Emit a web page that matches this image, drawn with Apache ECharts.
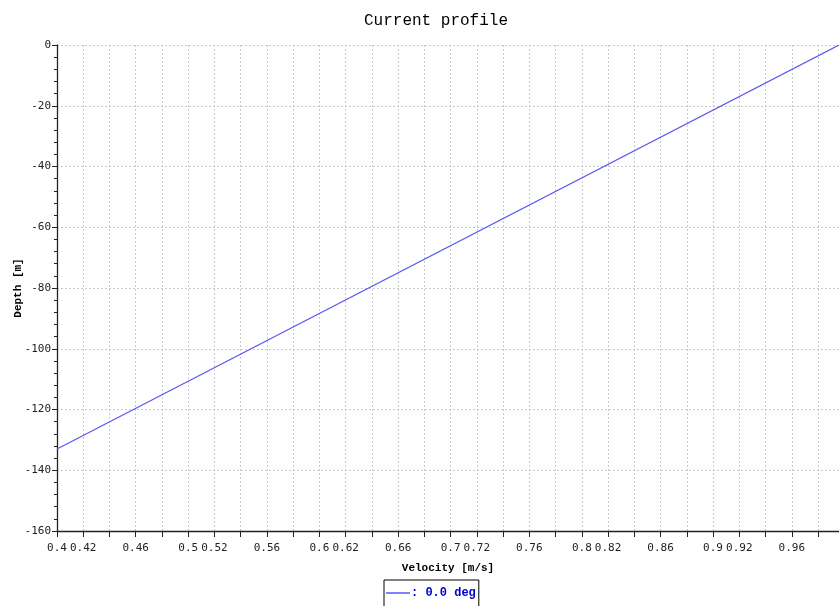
<!DOCTYPE html>
<html>
<head>
<meta charset="utf-8">
<script src="https://cdn.jsdelivr.net/npm/echarts@6/dist/echarts.min.js"></script>
<style>
  html, body { margin: 0; padding: 0; background: #fff; }
  #chart { width: 839px; height: 606px; }
</style>
</head>
<body>
<div id="chart"></div>
<script>
// Current profile: velocity against depth
const velocity = [0.40, 0.996];
const depth = [-133, 0];
const seriesName = ': 0.0 deg';

// Velocity tick labels that are printed (the rest stay blank)
const velocityLabels = [0.4, 0.42, 0.46, 0.5, 0.52, 0.56, 0.6, 0.62, 0.66, 0.7,
  0.72, 0.76, 0.8, 0.82, 0.86, 0.9, 0.92, 0.96];

const points = velocity.map((v, i) => [v, depth[i]]);

const chart = echarts.init(document.getElementById('chart'), null, { renderer: 'canvas' });

const gridLine = { show: true, lineStyle: { color: '#cacaca', type: [2, 2], width: 1 } };
const axisLine = { show: true, onZero: false, lineStyle: { color: '#222', width: 1.3 } };
const tickFont = { fontFamily: 'DejaVu Sans Mono', fontSize: 11, color: '#222' };
const nameFont = { fontFamily: 'Liberation Mono', fontSize: 11, fontWeight: 'bold', color: '#000' };

chart.setOption({
  animation: false,
  title: {
    text: 'Current profile',
    left: 359,
    top: 8,
    textStyle: { fontFamily: 'Liberation Mono', fontSize: 16, fontWeight: 'normal', color: '#000' }
  },
  legend: {
    left: 384,
    top: 580,
    orient: 'horizontal',
    data: [{ name: seriesName, icon: 'rect' }],
    itemWidth: 24,
    itemHeight: 1.5,
    itemGap: 0,
    padding: [7, 3, 10, 2],
    borderColor: '#000',
    borderWidth: 1,
    textStyle: { fontFamily: 'Liberation Mono', fontSize: 12, fontWeight: 'bold', color: '#0000cc', padding: [0, 0, 0, -4] }
  },
  grid: { left: 57, top: 45, right: 0, bottom: 75, containLabel: false, outerBoundsMode: 'none' },
  xAxis: {
    type: 'value',
    min: 0.4,
    max: 0.996,
    interval: 0.02,
    name: 'Velocity [m/s]',
    nameLocation: 'middle',
    nameGap: 32,
    nameMoveOverlap: false,
    nameTextStyle: nameFont,
    axisLine: axisLine,
    axisTick: { show: true, length: 6, lineStyle: { color: '#222' } },
    splitLine: gridLine,
    axisLabel: Object.assign({
      margin: 12,
      showMaxLabel: false,
      formatter: function (v) {
        const r = Math.round(v * 100) / 100;
        return velocityLabels.some(l => Math.abs(l - r) < 1e-9) ? String(r) : '';
      }
    }, tickFont)
  },
  yAxis: {
    type: 'value',
    min: -160,
    max: 0,
    interval: 20,
    name: 'Depth [m]',
    nameLocation: 'middle',
    nameGap: 33,
    nameMoveOverlap: false,
    nameTextStyle: nameFont,
    axisLine: axisLine,
    axisTick: { show: true, length: 5, lineStyle: { color: '#222' } },
    minorTick: { show: true, splitNumber: 5, length: 3, lineStyle: { color: '#222' } },
    splitLine: gridLine,
    axisLabel: Object.assign({ margin: 6 }, tickFont)
  },
  series: [{
    name: seriesName,
    type: 'line',
    data: points,
    showSymbol: false,
    symbol: 'none',
    lineStyle: { color: '#5858f0', width: 1.2 },
    itemStyle: { color: '#5858f0' }
  }]
});
</script>
</body>
</html>
